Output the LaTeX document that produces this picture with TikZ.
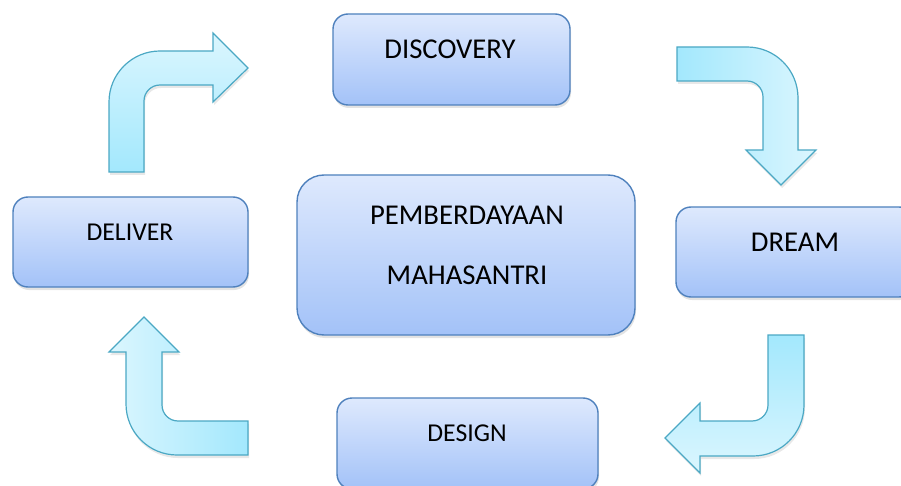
\documentclass[tikz,border=0pt]{standalone}
\usepackage{fontspec}
\setmainfont{Carlito}
\usetikzlibrary{shadows}
\definecolor{boxtop}{RGB}{222,233,253}
\definecolor{boxbottom}{RGB}{163,194,248}
\definecolor{boxedge}{RGB}{79,129,189}
\definecolor{arrowlight}{RGB}{219,246,254}
\definecolor{arrowdark}{RGB}{163,232,253}
\definecolor{arrowedge}{RGB}{75,168,196}
\begin{document}
\begin{tikzpicture}[x=1pt, y=1pt,
    stagebox/.style={draw=boxedge, line width=1.4pt, rounded corners=15pt,
      top color=boxtop, bottom color=boxbottom, inner sep=0pt,
      drop shadow={shadow xshift=1pt, shadow yshift=-3pt, opacity=0.22}},
    bigtext/.style={font=\fontsize{28.7}{34}\selectfont},
    smalltext/.style={font=\fontsize{25.7}{31}\selectfont},
    bentarrow/.style={draw=arrowedge, line width=1.2pt,
      drop shadow={shadow xshift=1pt, shadow yshift=-3pt, opacity=0.18}}]
  \clip (0,0) rectangle (901,485);
  % stage boxes
  \node[stagebox, minimum width=237pt, minimum height=91pt] (discovery) at (451.5,425.5) {};
  \node[stagebox, minimum width=238pt, minimum height=90pt] (dream) at (795,233) {};
  \node[stagebox, minimum width=261pt, minimum height=91pt] (design) at (467.5,41.5) {};
  \node[stagebox, minimum width=235pt, minimum height=90pt] (deliver) at (130.5,243) {};
  \node[stagebox, rounded corners=27pt, minimum width=338pt, minimum height=160pt] (center) at (466,230) {};
  % labels
  \node[bigtext] (discoveryLabel) at (450,436) {DISCOVERY};
  \node[bigtext] (dreamLabel) at (795,243) {DREAM};
  \node[smalltext] (designLabel) at (467,52) {DESIGN};
  \node[smalltext] (deliverLabel) at (130,253) {DELIVER};
  \node[bigtext] (centerTop) at (467,270) {PEMBERDAYAAN};
  \node[bigtext] (centerBottom) at (467,210) {MAHASANTRI};
  % bent arrows
  \path[bentarrow, bottom color=arrowdark, top color=arrowlight]
    (109,313) -- (109,383) arc[start angle=180, end angle=90, radius=51]
    -- (213,434) -- (213,452) -- (248,417) -- (213,383) -- (213,400) -- (160,400)
    arc[start angle=90, end angle=180, radius=16] -- (144,313) -- cycle;
  \path[bentarrow, left color=arrowdark, right color=arrowlight]
    (677,438) -- (747,438) arc[start angle=90, end angle=0, radius=51]
    -- (798,335) -- (816,335) -- (781,300) -- (746,335) -- (763,335) -- (763,388)
    arc[start angle=0, end angle=90, radius=16] -- (677,404) -- cycle;
  \path[bentarrow, top color=arrowdark, bottom color=arrowlight]
    (768,150) -- (804,150) -- (804,80) arc[start angle=0, end angle=-90, radius=51]
    -- (700,29) -- (700,12) -- (665,47) -- (700,82) -- (700,64) -- (752,64)
    arc[start angle=-90, end angle=0, radius=16] -- cycle;
  \path[bentarrow, right color=arrowdark, left color=arrowlight]
    (248,64) -- (178,64) arc[start angle=270, end angle=180, radius=16]
    -- (162,133) -- (179,133) -- (144,168) -- (109,133) -- (126,133) -- (126,81)
    arc[start angle=180, end angle=270, radius=51] -- (248,30) -- cycle;
\end{tikzpicture}
\end{document}
